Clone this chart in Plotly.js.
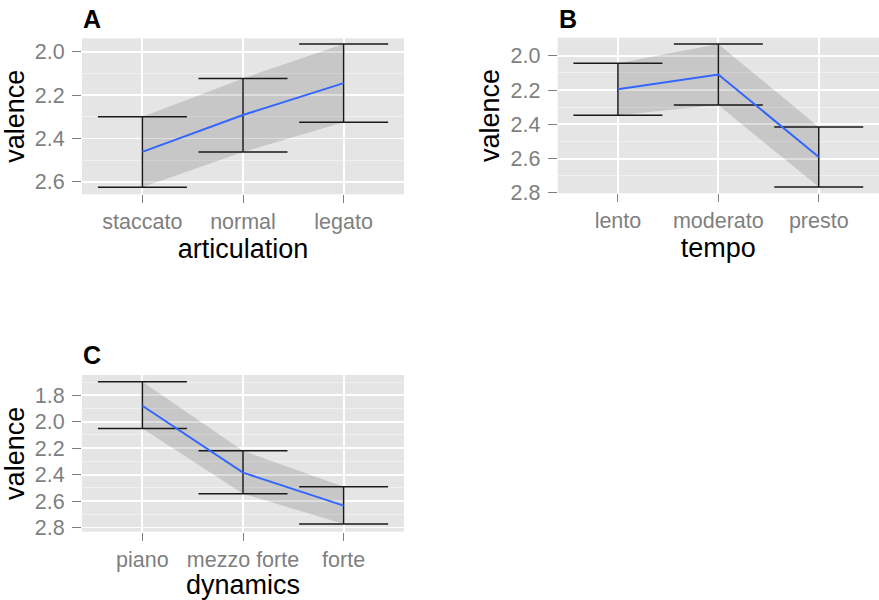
<!DOCTYPE html>
<html>
<head>
<meta charset="utf-8">
<script src="https://cdn.plot.ly/plotly-3.0.1.min.js"></script>
<style>html,body{margin:0;padding:0;background:#fff;}#chart{width:879px;height:600px;}</style>
</head>
<body>
<div id="chart"></div>
<script>
// ---- data ----
const artCats = ['staccato', 'normal', 'legato'];
const artMean = [2.462, 2.292, 2.145];
const artLower = [2.300, 2.123, 1.964];
const artUpper = [2.626, 2.463, 2.326];

const tempoCats = ['lento', 'moderato', 'presto'];
const tempoMean = [2.195, 2.110, 2.590];
const tempoLower = [2.044, 1.932, 2.415];
const tempoUpper = [2.347, 2.288, 2.766];

const dynCats = ['piano', 'mezzo forte', 'forte'];
const dynMean = [1.879, 2.385, 2.635];
const dynLower = [1.697, 2.219, 2.491];
const dynUpper = [2.050, 2.544, 2.774];

const panelLabels = ['A', 'B', 'C'];
const xTitles = ['articulation', 'tempo', 'dynamics'];
const yTitle = 'valence';

// ---- build ----
const FONT = 'Liberation Sans, Arial, Helvetica, sans-serif';
const panels = [
  {cats: artCats, mean: artMean, lo: artLower, hi: artUpper, xa: 'x', ya: 'y'},
  {cats: tempoCats, mean: tempoMean, lo: tempoLower, hi: tempoUpper, xa: 'x2', ya: 'y2'},
  {cats: dynCats, mean: dynMean, lo: dynLower, hi: dynUpper, xa: 'x3', ya: 'y3'}
];

const traces = [];
panels.forEach(p => {
  traces.push({x: p.cats, y: p.lo, xaxis: p.xa, yaxis: p.ya, mode: 'lines',
    line: {width: 0, color: 'rgba(0,0,0,0)'}, hoverinfo: 'skip', showlegend: false});
  traces.push({x: p.cats, y: p.hi, xaxis: p.xa, yaxis: p.ya, mode: 'lines', fill: 'tonexty',
    fillcolor: 'rgba(0,0,0,0.13)', line: {width: 0, color: 'rgba(0,0,0,0)'}, hoverinfo: 'skip', showlegend: false});
  traces.push({x: p.cats, y: p.mean, xaxis: p.xa, yaxis: p.ya, mode: 'lines',
    line: {color: '#3366FF', width: 2}, showlegend: false,
    error_y: {type: 'data', symmetric: false,
      array: p.hi.map((v, i) => v - p.mean[i]),
      arrayminus: p.mean.map((v, i) => v - p.lo[i]),
      color: '#1A1A1A', thickness: 1.5, width: 44.5}});
});

function xax(title, domain, anchor) {
  return {domain: domain, anchor: anchor, type: 'category', range: [-0.6, 2.6],
    showgrid: true, gridcolor: '#FFFFFF', gridwidth: 1.8, zeroline: false, showline: false,
    ticks: 'outside', ticklen: 8, tickwidth: 1, tickcolor: '#7F7F7F',
    tickfont: {family: FONT, size: 21.5, color: '#7F7F7F'},
    title: {text: title, font: {family: FONT, size: 27, color: '#000'}, standoff: 4},
    fixedrange: true};
}
function yax(range, domain, anchor) {
  return {domain: domain, anchor: anchor, range: range, dtick: 0.2, tick0: 0, tickformat: '.1f',
    showgrid: true, gridcolor: '#FFFFFF', gridwidth: 1.8, zeroline: false, showline: false,
    minor: {dtick: 0.1, showgrid: true, gridcolor: '#F2F2F2', gridwidth: 0.9, ticks: ''},
    ticks: 'outside', ticklen: 9, tickwidth: 1, tickcolor: '#7F7F7F', ticklabelstandoff: 3,
    tickfont: {family: FONT, size: 21.5, color: '#7F7F7F'},
    title: {text: yTitle, font: {family: FONT, size: 27, color: '#000'}, standoff: 3},
    fixedrange: true};
}

const W = 879, H = 600;
const layout = {
  width: W, height: H,
  margin: {l: 0, r: 0, t: 0, b: 0},
  paper_bgcolor: '#FFFFFF', plot_bgcolor: '#E5E5E5',
  font: {family: FONT},
  showlegend: false,
  xaxis: xax(xTitles[0], [82 / W, 404 / W], 'y'),
  yaxis: yax([2.658, 1.938], [1 - 194.3 / H, 1 - 38.3 / H], 'x'),
  xaxis2: xax(xTitles[1], [557.7 / W, 1], 'y2'),
  yaxis2: yax([2.802, 1.895], [1 - 193.3 / H, 1 - 37.7 / H], 'x2'),
  xaxis3: xax(xTitles[2], [82 / W, 404 / W], 'y3'),
  yaxis3: yax([2.832, 1.646], [1 - 531.7 / H, 1 - 375 / H], 'x3'),
  annotations: [
    {text: '<b>' + panelLabels[0] + '</b>', xref: 'paper', yref: 'paper', x: 81 / W, y: 1 - 18.5 / H,
     xanchor: 'left', yanchor: 'middle', showarrow: false, font: {family: FONT, size: 25, color: '#000'}},
    {text: '<b>' + panelLabels[1] + '</b>', xref: 'paper', yref: 'paper', x: 557 / W, y: 1 - 18.5 / H,
     xanchor: 'left', yanchor: 'middle', showarrow: false, font: {family: FONT, size: 25, color: '#000'}},
    {text: '<b>' + panelLabels[2] + '</b>', xref: 'paper', yref: 'paper', x: 81 / W, y: 1 - 355 / H,
     xanchor: 'left', yanchor: 'middle', showarrow: false, font: {family: FONT, size: 25, color: '#000'}}
  ]
};

Plotly.newPlot('chart', traces, layout, {displayModeBar: false, staticPlot: true});
</script>
</body>
</html>
